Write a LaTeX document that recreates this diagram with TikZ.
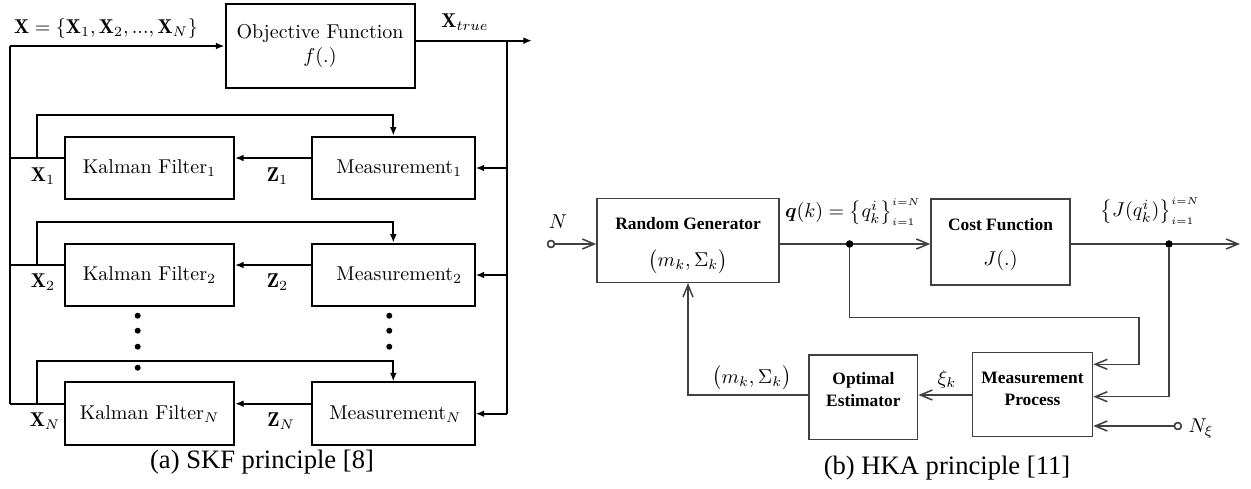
\documentclass[tikz,border=0pt]{standalone}
\usepackage{fontspec}
\usepackage{amsmath}
\usetikzlibrary{arrows.meta,calc}
\newfontfamily\tms{Liberation Serif}
\begin{document}
\begin{tikzpicture}[x=0.5pt,y=-0.5pt,
  skf/.style={line width=1pt},
  skfbox/.style={draw, line width=1pt, minimum height=31.3pt, inner sep=0pt},
  sarr/.style={-{Latex[length=4.3pt,width=3.4pt]}},
  sdot/.style={circle, fill, inner sep=0pt, minimum size=3pt},
  hka/.style={line width=0.75pt, draw=black!75},
  harr/.style={-{Straight Barb[length=6pt,width=5pt]}},
  hbox/.style={draw=black!75, line width=0.75pt, inner sep=0pt, minimum height=42pt},
  htxt/.style={font=\tms\bfseries\fontsize{8.7}{10}\selectfont, inner sep=0pt},
  hlab/.style={inner sep=0pt},
  hdot/.style={circle, fill, inner sep=0pt, minimum size=3.6pt},
  ocirc/.style={circle, draw=black!75, line width=0.75pt, fill=white, inner sep=0pt, minimum size=3.4pt},
  capt/.style={font=\tms\fontsize{13.3}{15}\selectfont, inner sep=0pt}
]
\useasboundingbox (0,0) rectangle (1251,488);

% ---------------- (a) SKF ----------------
\node[skfbox, minimum width=94.5pt, minimum height=42pt, align=center] (obj) at (320,46) {Objective Function\\ $f(.)$};

\node[skfbox, minimum width=84.5pt] (kf1) at (149.5,168) {Kalman Filter$_1$};
\node[skfbox, minimum width=81.3pt] (m1) at (393.3,168) {\hspace{6pt}Measurement$_1$};
\node[skfbox, minimum width=84.5pt] (kf2) at (149.5,275) {Kalman Filter$_2$};
\node[skfbox, minimum width=81.3pt] (m2) at (393.3,275) {\hspace{6pt}Measurement$_2$};
\node[skfbox, minimum width=84.5pt] (kf3) at (149.5,413.7) {Kalman Filter$_N$};
\node[skfbox, minimum width=81.3pt] (m3) at (393.3,413.7) {\hspace{2pt}Measurement$_N$};

\coordinate (lt) at (10.4,46);
\coordinate (rt) at (507,40.7);
\coordinate (out) at (532,40.7);

\draw[skf,sarr] (lt) -- (obj.west);
\draw[skf,sarr] (obj.east |- rt) -- (out);

\foreach \k/\m in {kf1/m1,kf2/m2,kf3/m3}{
  \coordinate (a\k) at ($(\m.west)+(0,-10)$);
  \coordinate (b\k) at ($(\k.east)+(0,-10)$);
  \coordinate (c\k) at ($(\k.west)+(0,-10)$);
  \draw[skf,sarr] (a\k) -- (b\k);
  \draw[skf] (c\k) -- (c\k -| lt);
  \coordinate (f\k) at (c\k -| 37,0);
  \draw[skf,sarr] (f\k) -- ++(0,-43) -| (\m.north);
  \draw[skf,sarr] (rt |- \m.east) -- (\m.east);
}
\draw[skf] (lt) -- (lt |- ckf3);
\draw[skf] (rt) -- (rt |- m3.east);

\node (xall) at (106,28) {$\mathbf{X}=\{\mathbf{X}_1,\mathbf{X}_2,...,\mathbf{X}_N\}$};
\node (xtrue) at (465,22) {$\mathbf{X}_{true}$};
\node (x1) at (43,176) {$\mathbf{X}_1$};
\node (z1) at (277.5,176) {$\mathbf{Z}_1$};
\node (x2) at (43,282) {$\mathbf{X}_2$};
\node (z2) at (277.5,282) {$\mathbf{Z}_2$};
\node (xn) at (45,421) {$\mathbf{X}_N$};
\node (zn) at (281,421) {$\mathbf{Z}_N$};

\node[sdot] (dl1) at (137.7,315.7) {};
\node[sdot] (dl2) at (137.7,330.7) {};
\node[sdot] (dl3) at (137.7,346.7) {};
\node[sdot] (dl4) at (137.7,367.7) {};
\node[sdot] (dr1) at (389.3,315.7) {};
\node[sdot] (dr2) at (389.3,330.7) {};
\node[sdot] (dr3) at (389.3,346.7) {};

\node[capt] (capa) at (262,462) {(a) SKF principle [8]};

% ---------------- (b) HKA ----------------
\node[hbox, minimum width=91pt] (rg) at (688,240.3) {};
\node[htxt] (rgt) at (688,223.3) {Random Generator};
\node[hlab] (rgm) at (688,261.7) {$\bigl(m_k,\Sigma_k\bigr)$};

\node[hbox, minimum width=69.5pt, minimum height=42.8pt] (cf) at (1000.5,242) {};
\node[htxt] (cft) at (1000.5,225) {Cost Function};
\node[hlab] (cfm) at (1000.5,260) {$J(.)$};

\node[hbox, minimum width=60.1pt] (mp) at (1032.5,394.7) {};
\node[htxt] (mpt1) at (1032.5,378.3) {Measurement};
\node[htxt] (mpt2) at (1032.5,400) {Process};

\node[hbox, minimum width=54.3pt, minimum height=42.2pt] (oe) at (863.4,397.2) {};
\node[htxt] (oet1) at (863.4,380) {Optimal};
\node[htxt] (oet2) at (863.4,401) {Estimator};

\node[ocirc] (nin) at (551,244) {};
\node[hlab] (nlab) at (558,222) {$N$};
\node[hdot] (j1) at (849.6,244) {};
\node[hdot] (j2) at (1169,244) {};
\coordinate (hout) at (1240,244);
\coordinate (c1) at (1138.8,317.3);
\coordinate (c2) at (0,364.3);
\coordinate (c3) at (0,396.7);
\coordinate (c4) at (0,395);
\node[ocirc] (nxi) at (1177.8,426) {};
\node[hlab] (nxil) at (1201,429) {$N_\xi$};

\draw[hka,harr] (nin) -- (nin -| rg.west);
\draw[hka,harr] (rg.east |- nin) -- (cf.west |- nin);
\draw[hka,harr] (cf.east |- nin) -- (hout);
\draw[hka,harr] (j1) |- (c1) |- (mp.east |- c2);
\draw[hka,harr] (j2) |- (mp.east |- c3);
\draw[hka,harr] (nxi) -- (nxi -| mp.east);
\draw[hka,harr] (mp.west |- c4) -- (oe.east |- c4);
\draw[hka,harr] (oe.west |- c4) -| (rg.south);
\node[hdot] at (j1) {};
\node[hdot] at (j2) {};
\node[ocirc] at (nin) {};
\node[ocirc] at (nxi) {};

\node[hlab] (ql) at (852.7,212) {$\boldsymbol{q}(k)=\bigl\{q_k^i\bigr\}_{\scriptscriptstyle i=1}^{\scriptscriptstyle i=N}$};
\node[hlab] (jl) at (1150,211) {$\bigl\{J(q_k^i)\bigr\}_{\scriptscriptstyle i=1}^{\scriptscriptstyle i=N}$};
\node[hlab] (xil) at (947,379) {$\xi_k$};
\node[hlab] (oml) at (751.8,378) {$\bigl(m_k,\Sigma_k\bigr)$};

\node[capt] (capb) at (947,468) {(b) HKA principle [11]};
\end{tikzpicture}
\end{document}
